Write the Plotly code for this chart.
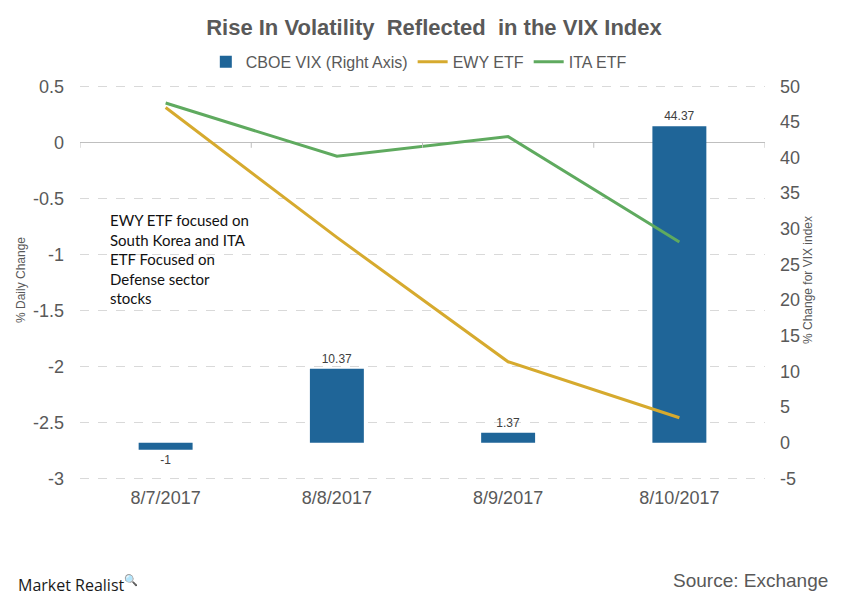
import plotly.graph_objects as go

dates = ["8/7/2017", "8/8/2017", "8/9/2017", "8/10/2017"]
vix_change = [-1, 10.37, 1.37, 44.37]
ewy_change = [0.31, -0.85, -1.96, -2.46]
ita_change = [0.35, -0.125, 0.05, -0.89]

left_ticks = [0.5, 0, -0.5, -1, -1.5, -2, -2.5, -3]
right_ticks = [50, 45, 40, 35, 30, 25, 20, 15, 10, 5, 0, -5]

# axis ranges (left and right axes aligned: -3 <-> -5, 0.5 <-> 50)
left_range = [-3.06, 0.6]
def to_right(v):
    return -5 + (v + 3) * (55 / 3.5)
right_range = [to_right(left_range[0]), to_right(left_range[1])]

BLUE = "#1F6598"
GOLD = "#D6AA2E"
GREEN = "#5FAA5F"
GRAY = "#595959"
SANS = "Liberation Sans, Arial, sans-serif"

fig = go.Figure()
# bars on primary axis (drawn on right side), lines on overlaying axis (left) so lines sit on top
fig.add_trace(go.Bar(
    x=dates, y=vix_change, name="CBOE VIX (Right Axis)", yaxis="y",
    marker=dict(color=BLUE, line=dict(width=0)), width=0.315,
    text=[str(v) for v in vix_change], textposition="outside",
    textfont=dict(family=SANS, size=12, color="#404040"), cliponaxis=False,
))
fig.add_trace(go.Scatter(
    x=dates, y=ewy_change, name="EWY ETF", mode="lines", yaxis="y2",
    line=dict(color=GOLD, width=3),
))
fig.add_trace(go.Scatter(
    x=dates, y=ita_change, name="ITA ETF", mode="lines", yaxis="y2",
    line=dict(color=GREEN, width=3),
))

# small tick marks on the category axis (drawn at the zero line)
for i in range(len(dates) + 1):
    fig.add_shape(type="line", xref="x", yref="y2", x0=i - 0.5, x1=i - 0.5,
                  y0=0, y1=-0.05, line=dict(color="#BFBFBF", width=1))

fig.update_layout(
    width=841, height=600,
    margin=dict(l=80, r=76, t=75, b=115, autoexpand=False),
    paper_bgcolor="white", plot_bgcolor="white",
    hovermode=False,
    title=dict(text="<b>Rise In Volatility  Reflected  in the VIX Index</b>",
               x=0.516, xanchor="center", y=0.955, yanchor="middle",
               font=dict(family=SANS, size=22, color=GRAY)),
    legend=dict(orientation="h", x=0.498, xanchor="center", xref="container",
                y=0.897, yanchor="middle", yref="container",
                font=dict(family=SANS, size=16, color=GRAY),
                traceorder="normal"),
    xaxis=dict(type="category", range=[-0.5, 3.5], showgrid=False,
               showline=False, zeroline=False, ticks="", automargin=False,
               tickfont=dict(family=SANS, size=18, color=GRAY)),
    yaxis=dict(range=right_range, tickvals=right_ticks,
               ticktext=[f"{v:g}" for v in right_ticks],
               side="right", showgrid=False, zeroline=False,
               showline=False, ticks="", automargin=False, ticklabelstandoff=14,
               tickfont=dict(family=SANS, size=18, color=GRAY),
               title=dict(text="% Change for VIX index", standoff=4,
                          font=dict(family=SANS, size=12, color=GRAY))),
    yaxis2=dict(range=left_range, tickvals=left_ticks,
                ticktext=[f"{v:g}" for v in left_ticks],
                overlaying="y", side="left",
                showgrid=True, gridcolor="#D9D9D9", griddash="dash", gridwidth=1,
                zeroline=True, zerolinecolor="#BFBFBF", zerolinewidth=1,
                showline=False, ticks="", automargin=False, ticklabelstandoff=15,
                tickfont=dict(family=SANS, size=18, color=GRAY),
                title=dict(text="% Daily Change", standoff=4,
                           font=dict(family=SANS, size=12, color=GRAY))),
    annotations=[
        dict(text="EWY ETF focused on<br>South Korea and ITA<br>ETF Focused on<br>Defense sector<br>stocks",
             xref="paper", yref="paper", x=0.041, y=0.672, xanchor="left", yanchor="top",
             align="left", showarrow=False,
             font=dict(family="Lato, Carlito, sans-serif", size=15, color="#111111")),
        dict(text="Market Realist<sup>&#x1F50D;</sup>", xref="paper", yref="paper",
             x=-0.094, y=-0.241, xanchor="left", yanchor="middle", showarrow=False,
             font=dict(family="Open Sans, sans-serif", size=16, color="#1a1a1a")),
        dict(text="Source: Exchange", xref="paper", yref="paper",
             x=1.095, y=-0.234, xanchor="right", yanchor="middle", showarrow=False,
             font=dict(family=SANS, size=19, color=GRAY)),
    ],
)

fig.write_html("out.html", config={"displayModeBar": False},
               post_script="document.body.style.margin='0';")
